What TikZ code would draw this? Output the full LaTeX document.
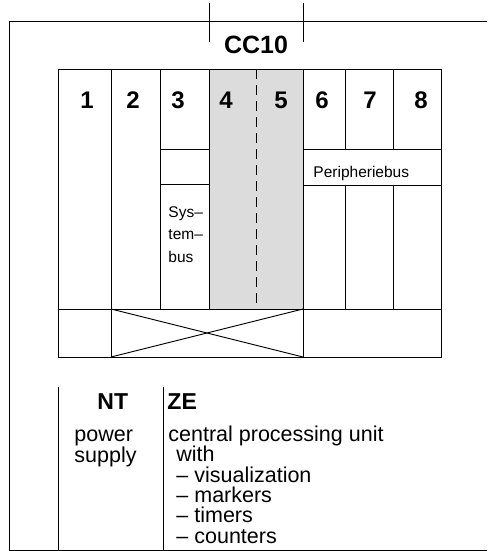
\documentclass[tikz,border=0pt]{standalone}
\usepackage{fontspec}
\setmainfont{Liberation Sans}
\definecolor{slotgray}{RGB}{220,220,220}
\begin{document}
\begin{tikzpicture}[x=1pt,y=-1pt,line width=0.9pt,
  num/.style={inner sep=0pt,font=\fontsize{24}{24}\selectfont\bfseries},
  head/.style={inner sep=0pt,anchor=base west,font=\fontsize{23}{23}\selectfont\bfseries},
  body/.style={inner sep=0pt,anchor=base west,font=\fontsize{21.5}{21.5}\selectfont},
  small/.style={inner sep=0pt,anchor=base west,font=\fontsize{15.5}{15.5}\selectfont},
  dashline/.style={dash pattern=on 10pt off 6pt}]
\useasboundingbox (0,0) rectangle (487,551);
% outer frame
\draw (487,21) -- (9,21) -- (9,550) -- (487,550);
\draw (209,3) -- (209,42);
\draw (303,3) -- (303,42);
\node[inner sep=0pt,font=\fontsize{25}{25}\selectfont\bfseries] (cc) at (256,44.5) {CC10};
% gray slot
\fill[slotgray] (209,69) rectangle (303,309);
% rack
\draw (58,69) rectangle (441,309);
\draw (58,309) rectangle (441,357);
\draw (111,69) -- (111,357);
\draw (303,69) -- (303,357);
\draw (160,69) -- (160,309);
\draw (209,69) -- (209,309);
\draw[dashline] (256,69) -- (256,309);
\draw (345,69) -- (345,149) (345,185) -- (345,309);
\draw (393,69) -- (393,149) (393,185) -- (393,309);
\draw (160,149) -- (209,149);
\draw (160,184) -- (209,184);
\draw (303,149) rectangle (441,185);
\draw (111,309) -- (303,357);
\draw (111,357) -- (303,309);
% slot numbers
\node[num] (n1) at (87,100) {1};
\node[num] (n2) at (133,100) {2};
\node[num] (n3) at (178,100) {3};
\node[num] (n4) at (226,100) {4};
\node[num] (n5) at (281,100) {5};
\node[num] (n6) at (322,100) {6};
\node[num] (n7) at (370,100) {7};
\node[num] (n8) at (421,100) {8};
\node[small] (pb) at (313,177) {Peripheriebus};
\node[small] (sb1) at (168,217) {Sys–};
\node[small] (sb2) at (168,239.5) {tem–};
\node[small] (sb3) at (168,262) {bus};
% legend
\draw (58,387) -- (58,550);
\draw (163,387) -- (163,550);
\node[head] (nt) at (97,409) {NT};
\node[head] (ze) at (167,409) {ZE};
\node[body] (p1) at (74,441.5) {power};
\node[body] (p2) at (74,462.5) {supply};
\node[body] (c1) at (168,441.5) {central processing unit};
\node[body] (c2) at (176,461.5) {with};
\node[body] (c3) at (176,482) {– visualization};
\node[body] (c4) at (176,502) {– markers};
\node[body] (c5) at (176,522) {– timers};
\node[body] (c6) at (176,543) {– counters};
\end{tikzpicture}
\end{document}
